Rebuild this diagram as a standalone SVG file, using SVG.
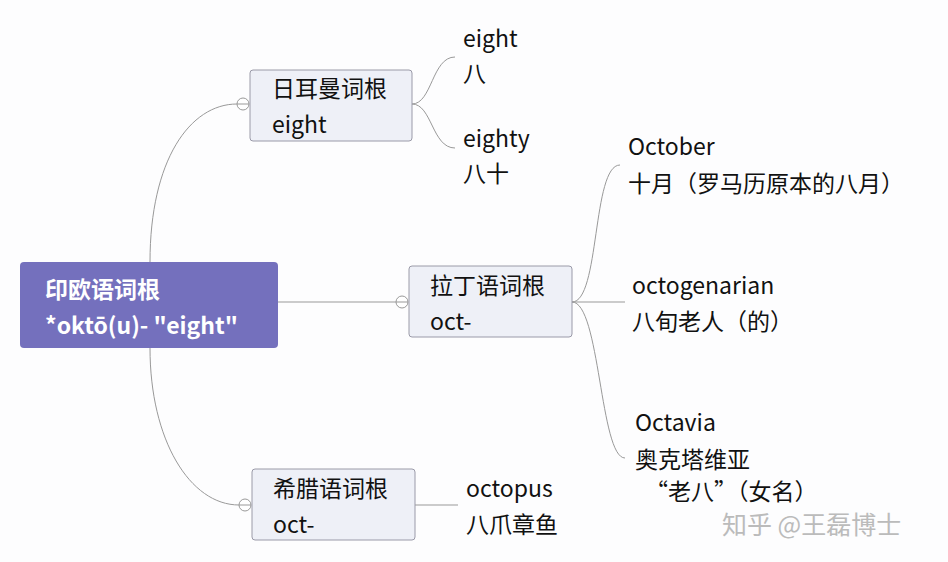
<svg xmlns="http://www.w3.org/2000/svg" width="948" height="562" viewBox="0 0 948 562">
<style>
text{font-family:"Noto Sans CJK SC","Liberation Sans",sans-serif;font-size:23px;fill:#111}
.root text{fill:#fff;font-weight:bold}
.box{fill:#eef0f7;stroke:#9a9aa8;stroke-width:1}
.c{fill:#fff;stroke:#999;stroke-width:1}
#connectors path{fill:none;stroke:#999;stroke-width:1}
</style>
<rect width="948" height="562" fill="#fdfdfe"/>
<g id="connectors">
<path d="M150,262 C150,160 190,104 237,104"/>
<path d="M150,348 C150,440 190,505 239,505"/>
<path d="M278,302 L396,302"/>
<path d="M412,104 C432,104 432,57 455,57"/>
<path d="M412,104 C432,104 432,148 455,148"/>
<path d="M572,302 C600,302 592,165 620,165"/>
<path d="M572,302 L625,302"/>
<path d="M572,302 C600,302 600,458 625,458"/>
<path d="M415,505 L458,505"/>
</g>
<g id="root" class="root">
<rect x="20" y="262" width="258" height="86" rx="4" fill="#7470bd"/>
<text x="45" y="298">印欧语词根</text>
<text x="45" y="334">*oktō(u)- "eight"</text>
</g>
<g id="germanic">
<circle class="c" cx="243" cy="104" r="6"/><path d="M237,104h12" stroke="#999"/>
<rect class="box" x="250" y="70" width="162" height="71" rx="3"/>
<text x="272" y="97">日耳曼词根</text>
<text x="272" y="133">eight</text>
</g>
<g id="latin">
<circle class="c" cx="402" cy="302" r="6"/><path d="M396,302h12" stroke="#999"/>
<rect class="box" x="409" y="266" width="163" height="71" rx="3"/>
<text x="430" y="294">拉丁语词根</text>
<text x="430" y="330">oct-</text>
</g>
<g id="greek">
<circle class="c" cx="245" cy="505" r="6"/><path d="M239,505h12" stroke="#999"/>
<rect class="box" x="252" y="469" width="163" height="71" rx="3"/>
<text x="273" y="497">希腊语词根</text>
<text x="273" y="533">oct-</text>
</g>
<g id="leaf-eight"><text x="463" y="47">eight</text><text x="463" y="82">八</text></g>
<g id="leaf-eighty"><text x="463" y="147">eighty</text><text x="463" y="182">八十</text></g>
<g id="leaf-october"><text x="628" y="155">October</text><text x="628" y="192">十月（罗马历原本的八月）</text></g>
<g id="leaf-octogenarian"><text x="632" y="294">octogenarian</text><text x="632" y="330">八旬老人（的）</text></g>
<g id="leaf-octavia"><text x="635" y="431">Octavia</text><text x="635" y="468">奥克塔维亚</text><text x="645" y="500">“老八”（女名）</text></g>
<g id="leaf-octopus"><text x="466" y="497">octopus</text><text x="466" y="533">八爪章鱼</text></g>
<text x="722" y="534" style="fill:#bbb;font-size:25px">知乎 @王磊博士</text>
</svg>
